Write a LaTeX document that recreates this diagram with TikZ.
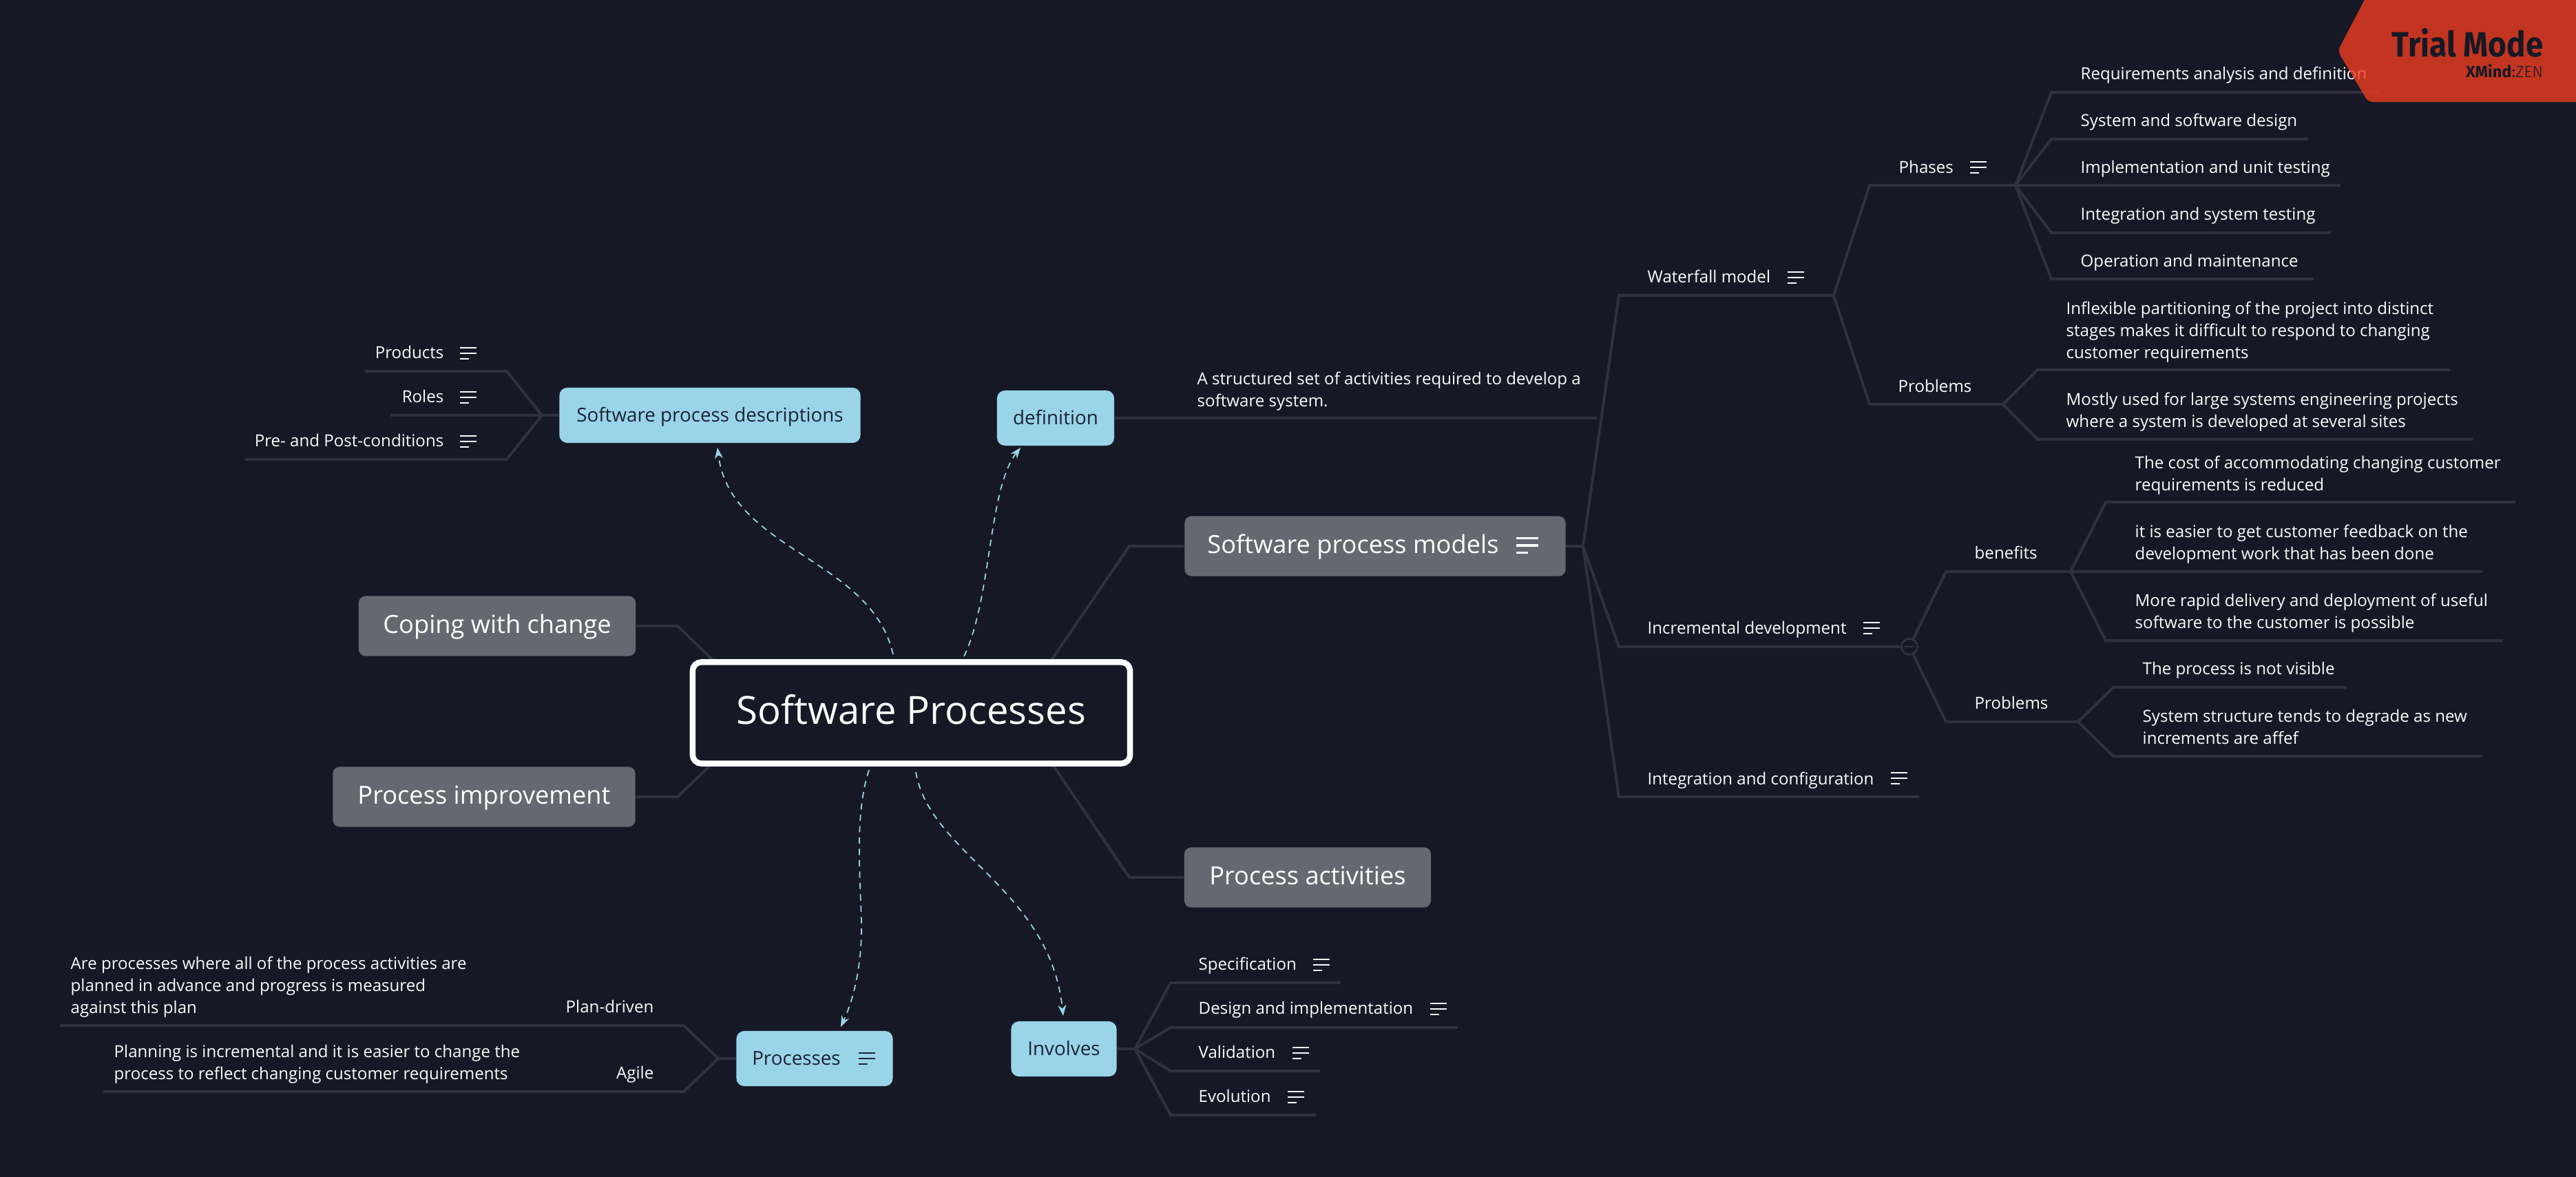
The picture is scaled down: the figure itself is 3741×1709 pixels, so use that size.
\documentclass[tikz,border=0pt]{standalone}
\usepackage{fontspec}
\setmainfont{Open Sans}
\newfontfamily\badgefont{Fira Sans}
\newfontfamily\badgelight{Fira Sans Light}
\usetikzlibrary{arrows.meta}
\definecolor{canvas}{HTML}{161925}
\definecolor{linkcol}{HTML}{2F313D}
\definecolor{greycol}{HTML}{666871}
\definecolor{bluecol}{HTML}{9AD4E9}
\definecolor{inkcol}{HTML}{1B2433}
\definecolor{leafcol}{HTML}{FAFAFB}
\definecolor{badgecol}{HTML}{EF3D21}

\begin{document}
\begin{tikzpicture}[
    x=0.01cm, y=-0.01cm,
    link/.style={draw=linkcol, line width=1.1pt, line join=miter},
    relation/.style={draw=bluecol, line width=0.5pt, dash pattern=on 2.6pt off 2.1pt,
                     -{Stealth[length=4.5pt, width=3.4pt]}},
    leaf/.style={font=\fontsize{6.85}{9.1}\selectfont, text=leafcol, inner sep=0pt,
                 align=left, anchor=west, xshift=-0.01cm,
                 execute at begin node=\strut, execute at end node=\strut},
    rleaf/.style={leaf, anchor=east, align=right, xshift=0.02cm},
    greytopic/.style={fill=greycol, rounded corners=2.8pt, inner sep=0pt, text=white,
                      font=\fontsize{10.3}{12}\selectfont, minimum height=0.87cm,
                      text height=8.2pt, text depth=2pt},
    bluetopic/.style={fill=bluecol, rounded corners=3.2pt, inner sep=0pt, text=inkcol,
                      font=\fontsize{7.9}{10}\selectfont, minimum height=0.8cm,
                      text height=7.4pt, text depth=2pt},
    pics/noteicon/.style={code={
        \draw[line width=0.8pt, #1] (0,-8) -- (24,-8) (0,0) -- (24,0) (0,8) -- (13,8);}},
    pics/noteicon/.default={leafcol}
]
\useasboundingbox (0,0) rectangle (3741,1709);
\fill[canvas] (0,0) rectangle (3741,1709);

% ---- Main topics ----
\node[greytopic, minimum width=5.53cm] (models) at (1997,793) {Software process models\kern0.64cm};
\node[greytopic, minimum width=3.58cm] (activities) at (1899,1274) {Process activities};
\node[greytopic, minimum width=4.02cm] (coping) at (722,909) {Coping with change};
\node[greytopic, minimum width=4.39cm] (improve) at (703,1157) {Process improvement};
\node[bluetopic, minimum width=4.37cm] (descr) at (1031,603) {Software process descriptions};
\node[bluetopic, minimum width=1.70cm] (defn) at (1533,607) {definition};
\node[bluetopic, minimum width=2.27cm] (procs) at (1183,1537) {Processes\kern0.53cm};
\node[bluetopic, minimum width=1.53cm] (involves) at (1545,1523) {Involves};
\pic[scale=1.33] at (2202,792) {noteicon={white, line width=1pt}};
\pic at (1247,1537) {noteicon={inkcol}};

% ---- Links from the centre, root is put on top later ----
\coordinate (rootr) at (1476,1033);
\coordinate (rootl) at (1113,1033);
\draw[link] (rootr) -- (1640,793) -- (models.west);
\draw[link] (rootr) -- (1640,1274) -- (activities.west);
\draw[link] (rootl) -- (984,909) -- (coping.east);
\draw[link] (rootl) -- (984,1157) -- (improve.east);

% ---- Definition ----
\node[leaf] (defntxt) at (1739,570) {A structured set of activities required to develop a\\software system.};
\coordinate (defnend) at (2319,607);
\draw[link] (defn.east) -- (defnend);

% ---- Software process models ----
\coordinate (modelsh) at (2299,793);
\draw[link] (models.east) -- (modelsh);

\node[leaf] (waterfall) at (2393,404) {Waterfall model};
\pic at (2596,403) {noteicon};
\coordinate (waterfallh) at (2663,429);
\draw[link] (modelsh) -- (2351,429) -- (waterfallh);

\node[leaf] (incr) at (2393,914) {Incremental development};
\pic at (2706,912) {noteicon};
\node[circle, draw=linkcol, fill=canvas, line width=0.8pt, minimum size=0.23cm, inner sep=0pt] (collapse) at (2773,939) {};
\draw[linkcol, line width=0.8pt] (2766,939) -- (2780,939);
\draw[link] (modelsh) -- (2351,939) -- (collapse.west);

\node[leaf] (integ) at (2393,1133) {Integration and configuration};
\pic at (2746,1130) {noteicon};
\coordinate (integend) at (2787,1157);
\draw[link] (modelsh) -- (2351,1157) -- (integend);

% ---- Waterfall model ----
\node[leaf] (phases) at (2758,245) {Phases};
\pic at (2861,243) {noteicon};
\coordinate (phasesh) at (2927,269);
\draw[link] (waterfallh) -- (2715,269) -- (phasesh);

\node[leaf] (wproblems) at (2757,563) {Problems};
\coordinate (wproblemsh) at (2909,587);
\draw[link] (waterfallh) -- (2715,587) -- (wproblemsh);

\node[leaf] (reqs) at (3022,109) {Requirements analysis and definition};
\coordinate (reqsend) at (3454,134);
\draw[link] (phasesh) -- (2979,134) -- (reqsend);
\node[leaf] (sysdes) at (3022,177) {System and software design};
\coordinate (sysdesend) at (3352,202);
\draw[link] (phasesh) -- (2979,202) -- (sysdesend);
\node[leaf] (impl) at (3022,245) {Implementation and unit testing};
\coordinate (implend) at (3399,269);
\draw[link] (phasesh) -- (implend);
\node[leaf] (sysint) at (3022,313) {Integration and system testing};
\coordinate (sysintend) at (3385,338);
\draw[link] (phasesh) -- (2979,338) -- (sysintend);
\node[leaf] (oper) at (3022,381) {Operation and maintenance};
\coordinate (operend) at (3360,405);
\draw[link] (phasesh) -- (2979,405) -- (operend);

\node[leaf] (inflex) at (3001,484) {Inflexible partitioning of the project into distinct\\stages makes it difficult to respond to changing\\customer requirements};
\coordinate (inflexend) at (3558,537);
\draw[link] (wproblemsh) -- (2959,537) -- (inflexend);
\node[leaf] (mostly) at (3001,600) {Mostly used for large systems engineering projects\\where a system is developed at several sites};
\coordinate (mostlyend) at (3591,638);
\draw[link] (wproblemsh) -- (2959,638) -- (mostlyend);

% ---- Incremental development ----
\node[leaf] (benefits) at (2868,805) {benefits};
\coordinate (benefitsh) at (3007,830);
\draw[link] (collapse) -- (2826,830) -- (benefitsh);
\node[leaf] (iproblems) at (2868,1023) {Problems};
\coordinate (iproblemsh) at (3018,1048);
\draw[link] (collapse) -- (2826,1048) -- (iproblemsh);

\node[leaf] (cost) at (3101,692) {The cost of accommodating changing customer\\requirements is reduced};
\coordinate (costend) at (3653,729);
\draw[link] (benefitsh) -- (3058,729) -- (costend);
\node[leaf] (easier) at (3101,792) {it is easier to get customer feedback on the\\development work that has been done};
\coordinate (easierend) at (3605,830);
\draw[link] (benefitsh) -- (easierend);
\node[leaf] (rapid) at (3101,892) {More rapid delivery and deployment of useful\\software to the customer is possible};
\coordinate (rapidend) at (3635,930);
\draw[link] (benefitsh) -- (3058,930) -- (rapidend);

\node[leaf] (visible) at (3112,973) {The process is not visible};
\coordinate (visibleend) at (3407,998);
\draw[link] (iproblemsh) -- (3069,998) -- (visibleend);
\node[leaf] (degrade) at (3112,1060) {System structure tends to degrade as new\\increments are affef};
\coordinate (degradeend) at (3605,1098);
\draw[link] (iproblemsh) -- (3069,1098) -- (degradeend);

% ---- Software process descriptions ----
\coordinate (descrh) at (787,603);
\draw[link] (descr.west) -- (descrh);
\node[rleaf] (products) at (644,514) {Products};
\pic at (668,513) {noteicon};
\coordinate (productsend) at (530,539);
\draw[link] (descrh) -- (736,539) -- (productsend);
\node[rleaf] (roles) at (644,578) {Roles};
\pic at (668,577) {noteicon};
\coordinate (rolesend) at (567,603);
\draw[link] (descrh) -- (rolesend);
\node[rleaf] (prepost) at (644,642) {Pre- and Post-conditions};
\pic at (668,641) {noteicon};
\coordinate (prepostend) at (356,667);
\draw[link] (descrh) -- (736,667) -- (prepostend);

% ---- Processes ----
\coordinate (procsh) at (1043,1537);
\draw[link] (procs.west) -- (procsh);
\node[rleaf] (plan) at (949,1464) {Plan-driven};
\node[leaf] (plantxt) at (103,1435) {Are processes where all of the process activities are\\planned in advance and progress is measured\\against this plan};
\coordinate (planend) at (87,1489);
\draw[link] (procsh) -- (993,1489) -- (planend);
\node[rleaf] (agile) at (949,1560) {Agile};
\node[leaf] (agiletxt) at (166,1547) {Planning is incremental and it is easier to change the\\process to reflect changing customer requirements};
\coordinate (agileend) at (150,1585);
\draw[link] (procsh) -- (993,1585) -- (agileend);

% ---- Involves ----
\coordinate (involvesh) at (1648,1523);
\draw[link] (involves.east) -- (involvesh);
\node[leaf] (spec) at (1741,1402) {Specification};
\pic at (1907,1401) {noteicon};
\coordinate (specend) at (1947,1427);
\draw[link] (involvesh) -- (1700,1427) -- (specend);
\node[leaf] (design) at (1741,1466) {Design and implementation};
\pic at (2077,1465) {noteicon};
\coordinate (designend) at (2117,1492);
\draw[link] (involvesh) -- (1700,1492) -- (designend);
\node[leaf] (valid) at (1741,1530) {Validation};
\pic at (1877,1529) {noteicon};
\coordinate (validend) at (1917,1555);
\draw[link] (involvesh) -- (1700,1555) -- (validend);
\node[leaf] (evol) at (1741,1594) {Evolution};
\pic at (1870,1593) {noteicon};
\coordinate (evolend) at (1911,1619);
\draw[link] (involvesh) -- (1700,1619) -- (evolend);

% ---- Root ----
\node[draw=white, fill=canvas, line width=2.4pt, rounded corners=3.6pt, inner sep=0pt,
      minimum width=6.35cm, minimum height=1.47cm, text=white, text height=12pt, text depth=2.6pt,
      font=\fontsize{16}{19}\selectfont] (root) at (1323.5,1035) {Software Processes};

% ---- Dashed relations ----
\coordinate (rela) at (1297,950);
\coordinate (relb) at (1400,953);
\coordinate (relc) at (1262,1118);
\coordinate (reld) at (1330,1121);
\coordinate (relm) at (1251,1340);
\coordinate (descrtip) at (1042,650);
\coordinate (defntip) at (1482,650);
\coordinate (procstip) at (1221,1491);
\coordinate (involvestip) at (1544,1475);
\draw[relation] (rela) .. controls (1265,810) and (1060,800) .. (descrtip);
\draw[relation] (relb) .. controls (1440,870) and (1435,710) .. (defntip);
\draw[relation] (relc) .. controls (1240,1185) and (1250,1280) .. (relm)
      .. controls (1252,1400) and (1240,1450) .. (procstip);
\draw[relation] (reld) .. controls (1350,1240) and (1525,1290) .. (involvestip);

% ---- Trial badge ----
\fill[badgecol, opacity=0.8, rounded corners=2pt] (3439,-10) -- (3395,74) -- (3439,148)
      -- (3760,148) -- (3760,-10) -- cycle;
\node[anchor=east, inner sep=0pt, text=canvas, xscale=0.9,
      font=\badgefont\bfseries\fontsize{14.5}{16}\selectfont] (trial) at (3694,62) {Trial Mode};
\node[anchor=east, inner sep=0pt, text=canvas,
      font=\badgefont\fontsize{6.7}{8}\selectfont] (xmind) at (3694,103) {\textbf{XMind}:\badgelight ZEN};
\end{tikzpicture}
\end{document}
